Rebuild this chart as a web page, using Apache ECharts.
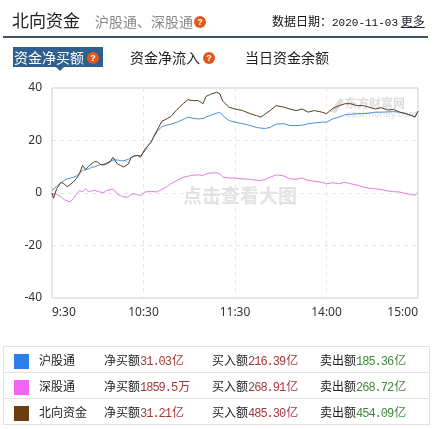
<!DOCTYPE html>
<html>
<head>
<meta charset="utf-8">
<script src="https://cdn.jsdelivr.net/npm/echarts@6/dist/echarts.min.js"></script>
<style>
html,body{margin:0;padding:0;background:#fff;}
body{width:433px;height:429px;position:relative;overflow:hidden;font-family:"Noto Sans CJK SC","Microsoft YaHei",sans-serif;}
#chart{position:absolute;left:0;top:0;width:433px;height:429px;z-index:0;}
.ov{position:absolute;z-index:2;white-space:nowrap;}
.q{display:inline-block;width:12px;height:12px;border-radius:6px;background:#e2581c;color:#fff;font:bold 9px/12px Arial,sans-serif;text-align:center;vertical-align:middle;}
.mono{font-family:"Liberation Mono","DejaVu Sans Mono",monospace;}
table{border-collapse:collapse;table-layout:fixed;}
td{border-top:1px solid #e3e3e3;border-bottom:1px solid #e3e3e3;height:25px;padding:0;font-size:12px;color:#222;overflow:hidden;}
.sq{display:inline-block;width:15px;height:15px;vertical-align:middle;}
.red,.grn{font-family:"Liberation Mono","DejaVu Sans Mono",monospace;font-size:12px;letter-spacing:-1px;}
.red{color:#a3383b;}
.grn{color:#3f8a3a;}
.unit{font-family:"Noto Sans CJK SC",sans-serif;font-size:12px;letter-spacing:0;margin-left:1px;}
</style>
</head>
<body>
<div id="chart"></div>

<div class="ov" style="left:12px;top:8px;font-size:17px;color:#222;line-height:24px;">北向资金</div>
<div class="ov" style="left:95px;top:10px;font-size:14px;color:#888;line-height:22px;">沪股通、深股通<span class="q" style="margin-left:1px;margin-top:-2px;">?</span></div>
<div class="ov" style="left:272px;top:12px;font-size:12px;color:#111;line-height:18px;">数据日期：<span class="mono" style="font-size:11px;">2020-11-03</span> <span style="text-decoration:underline;color:#223;">更多</span></div>
<div class="ov" style="left:3px;top:36px;width:425px;height:2px;background:#3f5567;"></div>

<div class="ov" style="left:13px;top:47px;width:90px;height:20px;background:#2f5f8e;"></div>
<div class="ov" style="left:56px;top:67px;width:0;height:0;border-left:4px solid transparent;border-right:4px solid transparent;border-top:4px solid #2f5f8e;"></div>
<div class="ov" style="left:14px;top:47px;font-size:14px;color:#fff;line-height:20px;">资金净买额<span class="q" style="margin-left:3px;margin-top:-2px;">?</span></div>
<div class="ov" style="left:130px;top:47px;font-size:14px;color:#222;line-height:20px;">资金净流入<span class="q" style="margin-left:3px;margin-top:-2px;">?</span></div>
<div class="ov" style="left:245px;top:47px;font-size:14px;color:#222;line-height:20px;">当日资金余额</div>

<div class="ov" style="left:3px;top:346px;width:425px;border-left:1px solid #e3e3e3;border-right:1px solid #e3e3e3;">
<table style="width:425px;" id="tbl"></table>
</div>

<script>
// ---- data (minute index from 9:30; 120 = 11:30/13:00, 240 = 15:00), values in 亿元 ----
var minutes = [0,1,3,6,8,10,12,14,16,18,20,22,24,26,28,30,32,34,36,38,40,41,43,45,47,50,52,54,56,58,61,63,65,67,69,72,75,78,82,86,89,93,96,99,101,104,108,110,112,116,120,125,130,134,137,140,143,147,152,156,160,164,168,172,177,180,184,188,192,196,200,204,208,212,216,220,224,228,232,236,238,240];
var huValues = [1,1.5,2.5,4,4.8,5.4,5.7,6,6.5,7.5,8.6,8.8,9.2,9.8,10,10.5,10.8,11,11.5,12,12.6,13,12.6,12.3,12.3,12.8,13.5,14,14.3,14.3,16,18,19.5,21.5,23.5,25.3,25.8,26.2,27,28,28.9,28.4,28.2,28.4,28.9,29.6,30.4,30.8,29.5,27.6,27,26.4,25.7,25,24.7,24.6,25,26.2,26.4,25.7,25.7,25.8,26.4,26.7,27,27,28.2,28.9,29.8,30,30.2,30.2,30.4,30.8,30.8,30.9,31,30.8,30.2,29.5,28.9,31.03];
var shenValues = [-0.3,0.4,-0.5,-1.5,-2.5,-3,-3.3,-2.2,-0.5,1,0.4,1.6,0.5,0.8,1,0.6,0.3,0.2,1,1.2,1.6,1.2,-0.5,-1,-1.5,-1.6,-0.5,-0.3,-0.6,-1,0.4,0.5,0.6,0.5,0.4,1.4,2.3,3.5,4.8,6,6.4,6.8,6.9,6.7,7.3,7.6,7.7,7.3,6.1,5.7,5.7,5.4,5.2,4.8,4.8,5.2,6,6.9,6.5,5.4,5.2,5.7,4.8,4.5,4.1,3.5,3.9,3.5,4.1,3.5,3,2.3,1.8,1.6,1.3,0.8,0.5,0.4,-0.3,-0.6,-0.9,0.19];
var northValues = [0,-2,1.6,4.1,3.4,2.4,3.2,4.2,5.5,7.3,10.5,9,10.2,11.2,12,11.8,10.8,10.7,11.2,11.8,13.6,14.3,11,10.5,9.9,11,13.6,14.2,14.3,13.6,16.8,18,19.4,21.9,24,27.3,28.2,29.2,31.8,34,35.5,35.2,35.2,34,36.8,37.6,38.4,37.8,35,32.7,32,31.4,30.2,29.5,28.9,30.2,31.4,33.3,32.7,32,31.4,32,30.8,31.4,30.8,30.2,32.2,33.2,34,34,33.3,33.3,32.7,32,32.5,31.6,31.8,30.8,30.2,29.5,28.9,31.21];
var xTickLabels = ['9:30','10:30','11:30','14:00','15:00'];
var yTicks = [-40,-20,0,20,40];

var seriesNames = ['沪股通','深股通','北向资金'];
var seriesColors = ['#2b7fe6','#f463f4','#6b3e12'];
var netBuy = ['31.03亿','1859.5万','31.21亿'];
var buyAmt = ['216.39亿','268.91亿','485.30亿'];
var sellAmt = ['185.36亿','268.72亿','454.09亿'];

// ---- table ----
function splitNum(s){var m=s.match(/^([\d.]+)(.*)$/);return '<span>'+m[1]+'</span><span class="unit">'+m[2]+'</span>';}
var tb = document.getElementById('tbl');
var html='<colgroup><col style="width:35px"><col style="width:65px"><col style="width:108px"><col style="width:108px"><col></colgroup>';
for (var i=0;i<3;i++){
  html += '<tr>'+
    '<td style="padding-left:10px;"><span class="sq" style="background:'+seriesColors[i]+'"></span></td>'+
    '<td>'+seriesNames[i]+'</td>'+
    '<td>净买额<span class="red">'+splitNum(netBuy[i])+'</span></td>'+
    '<td>买入额<span class="red">'+splitNum(buyAmt[i])+'</span></td>'+
    '<td>卖出额<span class="grn">'+splitNum(sellAmt[i])+'</span></td>'+
  '</tr>';
}
tb.innerHTML = html;

// ---- chart ----
function pairs(vals){return minutes.map(function(m,i){return [m, vals[i]];});}
var chart = echarts.init(document.getElementById('chart'), null, {renderer:'canvas'});
var lbl = {};
[0,60,120,180,240].forEach(function(v,i){lbl[v]=xTickLabels[i];});
chart.setOption({
  animation:false,
  grid:{left:52,top:88,width:366,height:210,show:true,borderColor:'#cccccc',borderWidth:1,backgroundColor:'transparent'},
  xAxis:{type:'value',min:0,max:240,interval:60,
    axisLine:{show:false},axisTick:{show:false},
    axisLabel:{color:'#333',fontSize:12,margin:9,fontFamily:'"Noto Sans","DejaVu Sans",sans-serif',
      formatter:function(v){return lbl[v]||'';},alignMinLabel:'left',alignMaxLabel:'right'},
    splitLine:{show:true,lineStyle:{color:'#e6e6e6',type:[4,4]}}},
  yAxis:{type:'value',min:yTicks[0],max:yTicks[yTicks.length-1],interval:20,
    axisLine:{show:false},axisTick:{show:false},
    axisLabel:{color:'#333',fontSize:12,margin:10,padding:[3,0,0,0],fontFamily:'"Noto Sans","DejaVu Sans",sans-serif'},
    splitLine:{show:true,lineStyle:{color:'#e6e6e6',type:[4,4]}}},
  graphic:[
    {type:'text',left:183,top:186,z:0,style:{text:'点击查看大图',fill:'#e2e2e2',font:'bold 19px "Noto Sans CJK SC",sans-serif'}},
    {type:'text',left:345,top:97,z:0,style:{text:'东方财富网',fill:'#dcdcdc',font:'bold 12px "Noto Sans CJK SC",sans-serif'}},
    {type:'text',left:346,top:110,z:0,style:{text:'eastmoney.com',fill:'#dcdcdc',font:'9px "DejaVu Sans",sans-serif'}},
    {type:'polygon',z:0,shape:{points:[[330,112],[340,98],[344,100],[336,113]]},style:{fill:'#dedede'}}
  ],
  series:[
    {name:seriesNames[0],type:'line',data:pairs(huValues),showSymbol:false,lineStyle:{width:1,color:'#4a8fdc'},itemStyle:{color:'#4a8fdc'},z:3},
    {name:seriesNames[1],type:'line',data:pairs(shenValues),showSymbol:false,lineStyle:{width:1,color:'#e27ce2'},itemStyle:{color:'#e27ce2'},z:3},
    {name:seriesNames[2],type:'line',data:pairs(northValues),showSymbol:false,lineStyle:{width:1,color:'#5a3c1c'},itemStyle:{color:'#5a3c1c'},z:4}
  ]
});
</script>
</body>
</html>
